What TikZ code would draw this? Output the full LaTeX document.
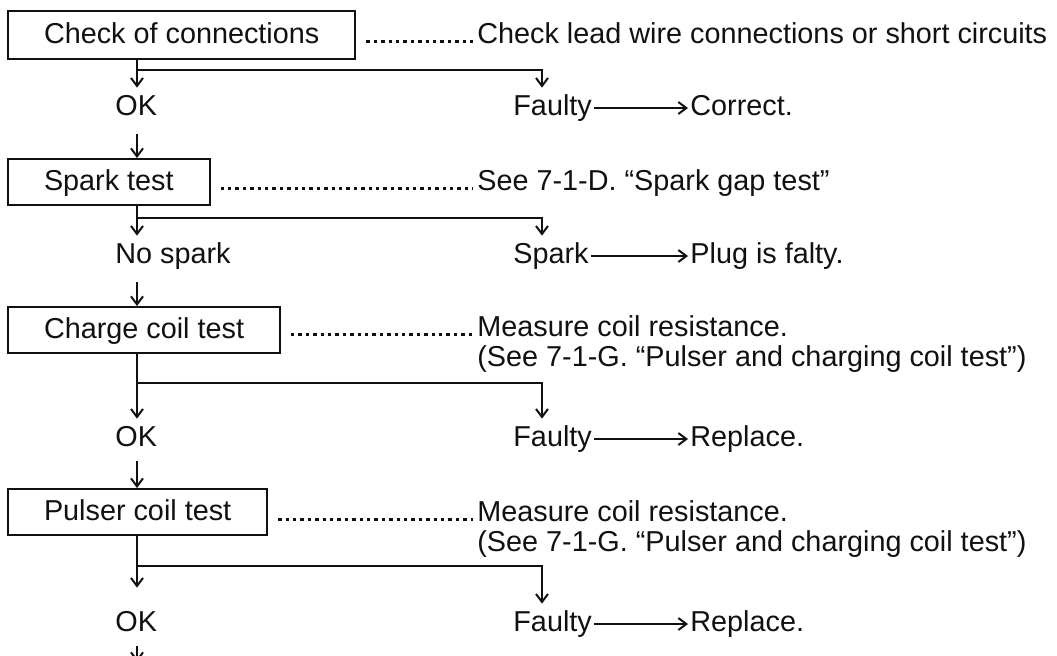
\documentclass[tikz,border=0pt]{standalone}
\usepackage{fontspec}
\setmainfont{Liberation Sans}
\usetikzlibrary{positioning,arrows.meta,calc}
\definecolor{ink}{HTML}{111111}

\begin{document}
\begin{tikzpicture}[x=0.5pt,y=-0.5pt,font=\fontsize{14.4}{15}\selectfont,
  stepbox/.style={draw=ink,line width=1pt,anchor=west,minimum height=23pt,inner xsep=18pt,text height=10pt,text depth=2pt,text=ink},
  answer/.style={anchor=base west,inner xsep=1pt,inner ysep=3.5pt,text height=10pt,text depth=3pt,text=ink},
  note/.style={anchor=base west,inner sep=0pt,text=ink},
  arr/.style={-{Straight Barb[length=4pt,width=6pt]},line width=1pt,draw=ink},
  leader/.style={draw=ink,line width=1.7pt,dash pattern=on 1.7pt off 2pt}]
  \fill[white] (0,0) rectangle (1057,655);
  \useasboundingbox (0,0) rectangle (1057,655);
  % tests down the left side
  \node[stepbox,minimum height=24pt] (conn) at (7,35) {Check of connections};
  \node[stepbox] (spark) at (7,182) {Spark test};
  \node[stepbox] (charge) at (7,330) {Charge coil test};
  \node[stepbox] (pulser) at (7,512) {Pulser coil test};
  % what each test means
  \node[note] (d1) at (477,43) {Check lead wire connections or short circuits};
  \node[note] (d2) at (477,190) {See 7-1-D. ``Spark gap test''};
  \node[note] (d3) at (477,336) {Measure coil resistance.};
  \node[note] (d3b) at (477,366) {(See 7-1-G. ``Pulser and charging coil test'')};
  \node[note] (d4) at (477,521) {Measure coil resistance.};
  \node[note] (d4b) at (477,551) {(See 7-1-G. ``Pulser and charging coil test'')};
  \foreach \s/\d in {conn/d1,spark/d2,charge/d3,pulser/d4}
    \draw[leader] ($(\s.east |- \d.base)+(5pt,0.85pt)$) -- ($(\d.base west)+(-2pt,0.85pt)$);
  % outcomes
  \node[answer] (ok1) at (113,115) {OK};
  \node[answer] (faulty1) at (511,115) {Faulty};
  \node[answer] (fixed1) at (688,115) {Correct.};
  \node[answer] (nospark) at (113,263) {No spark};
  \node[answer] (sparky) at (511,263) {Spark};
  \node[answer] (plug) at (688,263) {Plug is falty.};
  \node[answer] (ok3) at (113,446) {OK};
  \node[answer] (faulty3) at (511,446) {Faulty};
  \node[answer] (fixed3) at (688,446) {Replace.};
  \node[answer] (ok4) at (113,631) {OK};
  \node[answer] (faulty4) at (511,631) {Faulty};
  \node[answer] (fixed4) at (688,631) {Replace.};
  \foreach \s/\yes/\no/\fix/\y/\gap in {conn/ok1/faulty1/fixed1/70/0pt,spark/nospark/sparky/plug/218/0pt,
      charge/ok3/faulty3/fixed3/383/0pt,pulser/ok4/faulty4/fixed4/566/8pt}{
    \coordinate (fork-\s) at (137,\y);
    \coordinate (bend-\s) at (542,\y);
    \draw[arr,shorten >=\gap] (\s.south -| fork-\s) -- (\yes.north -| fork-\s);
    \draw[arr] (fork-\s) -- (bend-\s) -- (bend-\s |- \no.north);
    \draw[arr] (\no.east) -- (\fix.west);
  }
  \coordinate (next) at (137,662);
  \draw[arr,shorten <=3pt] (ok1.south -| fork-conn) -- (spark.north -| fork-conn);
  \draw[arr,shorten <=3pt] (nospark.south -| fork-conn) -- (charge.north -| fork-conn);
  \draw[arr,shorten <=1pt] (ok3.south -| fork-conn) -- (pulser.north -| fork-conn);
  \draw[arr,shorten <=1pt] (ok4.south -| next) -- (next);
\end{tikzpicture}
\end{document}
